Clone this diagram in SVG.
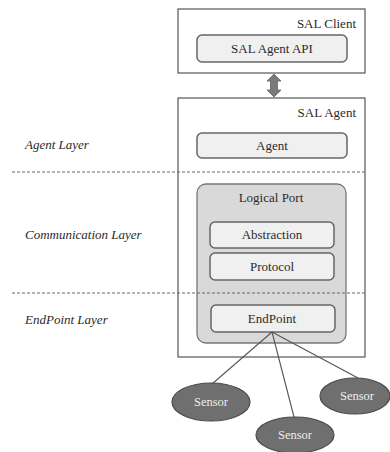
<svg xmlns="http://www.w3.org/2000/svg" width="390" height="452" viewBox="0 0 390 452">
<defs>
<style>
.outer{fill:#fff;stroke:#555;stroke-width:1.2}
.inner{fill:#f0f0f0;stroke:#666;stroke-width:1.5}
.port{fill:#d9d9d9;stroke:#777;stroke-width:1.3}
.t{font-family:"Liberation Serif","DejaVu Serif","Times New Roman",serif;font-size:13px;fill:#2a2a2a}
.c{text-anchor:middle}
.r{text-anchor:end}
.it{font-style:italic}
.dash{stroke:#666;stroke-width:1;stroke-dasharray:3,2;fill:none}
.link{stroke:#555;stroke-width:1.1;fill:none}
.sensor{fill:#6f6f6f;stroke:#4a4a4a;stroke-width:1.2}
.st{font-family:"Liberation Serif","DejaVu Serif","Times New Roman",serif;font-size:12.5px;fill:#eee;text-anchor:middle}
</style>
</defs>
<rect width="390" height="452" fill="#fff"/>
<g id="labels">
<text class="t it" x="25" y="149">Agent Layer</text>
<text class="t it" x="25" y="239">Communication Layer</text>
<text class="t it" x="25" y="324">EndPoint Layer</text>
</g>
<g id="sal-client">
<rect class="outer" x="178" y="9" width="187" height="64"/>
<text class="t r" x="356" y="28">SAL Client</text>
</g>
<g id="sal-agent-api">
<rect class="inner" x="197" y="35" width="150" height="27" rx="5"/>
<text class="t c" x="272" y="53">SAL Agent API</text>
</g>
<g id="sal-agent">
<rect class="outer" x="178" y="98" width="187" height="259"/>
<text class="t r" x="356" y="117">SAL Agent</text>
</g>
<g id="agent">
<rect class="inner" x="197" y="133" width="150" height="25" rx="5"/>
<text class="t c" x="272" y="150">Agent</text>
</g>
<g id="logical-port">
<rect class="port" x="197" y="184" width="149" height="159" rx="9"/>
<text class="t c" x="271" y="202">Logical Port</text>
</g>
<g id="abstraction">
<rect class="inner" x="210" y="222" width="124" height="26" rx="5"/>
<text class="t c" x="272" y="239">Abstraction</text>
</g>
<g id="protocol">
<rect class="inner" x="210" y="253" width="124" height="27" rx="5"/>
<text class="t c" x="272" y="271">Protocol</text>
</g>
<g id="endpoint">
<rect class="inner" x="211" y="305" width="124" height="27" rx="5"/>
<text class="t c" x="272" y="323">EndPoint</text>
</g>
<g id="layer-dividers">
<line class="dash" x1="12" y1="172" x2="365" y2="172"/>
<line class="dash" x1="12" y1="293" x2="365" y2="293"/>
</g>
<g id="connectors">
<path d="M274 74 L281 81 L277.5 81 L277.5 90 L281 90 L274 97 L267 90 L270.5 90 L270.5 81 L267 81 Z" fill="#7a7a7a" stroke="#666" stroke-width="0.8"/>
<line class="link" x1="272" y1="332" x2="212" y2="384"/>
<line class="link" x1="272" y1="332" x2="294" y2="417"/>
<line class="link" x1="272" y1="332" x2="358" y2="378"/>
</g>
<g id="sensor-left">
<ellipse class="sensor" cx="211" cy="402" rx="39" ry="19"/>
<text class="st" x="211" y="406">Sensor</text>
</g>
<g id="sensor-middle">
<ellipse class="sensor" cx="295" cy="435" rx="39" ry="18"/>
<text class="st" x="295" y="439">Sensor</text>
</g>
<g id="sensor-right">
<ellipse class="sensor" cx="355" cy="396" rx="35" ry="18"/>
<text class="st" x="357" y="400">Sensor</text>
</g>
</svg>
